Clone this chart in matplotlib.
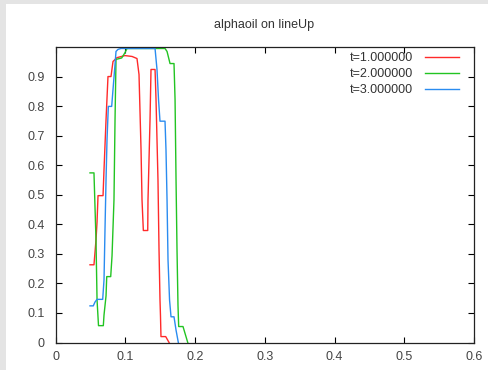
import matplotlib
matplotlib.use("Agg")
import matplotlib.pyplot as plt
from matplotlib.patches import Rectangle

# values (data units)
x_t1 = [0.0492, 0.0549, 0.0578, 0.0593, 0.0607, 0.0679, 0.0693, 0.0722, 0.0750, 0.0793,
        0.0822, 0.0879, 0.0993, 0.1095, 0.1166, 0.1195, 0.1224, 0.1238, 0.1257, 0.1320,
        0.1324, 0.1353, 0.1367, 0.1425, 0.1439, 0.1467, 0.1482, 0.1496, 0.1503, 0.1510,
        0.1578, 0.1626]
y_t1 = [0.263, 0.263, 0.347, 0.408, 0.497, 0.497, 0.585, 0.754, 0.900, 0.900,
        0.951, 0.964, 0.971, 0.968, 0.961, 0.907, 0.653, 0.483, 0.379, 0.379,
        0.483, 0.754, 0.924, 0.924, 0.822, 0.551, 0.314, 0.144, 0.090, 0.020,
        0.020, 0.0]

x_t2 = [0.0492, 0.0549, 0.0578, 0.0593, 0.0614, 0.0683, 0.0693, 0.0722, 0.0732, 0.0789,
        0.0808, 0.0836, 0.0851, 0.0865, 0.0947, 0.0994, 0.1023, 0.1568, 0.1597, 0.1640,
        0.1697, 0.1712, 0.1726, 0.1740, 0.1754, 0.1764, 0.1826, 0.1894]
y_t2 = [0.574, 0.574, 0.347, 0.144, 0.057, 0.057, 0.093, 0.158, 0.223, 0.223,
        0.293, 0.483, 0.754, 0.958, 0.963, 0.981, 0.995, 0.995, 0.985, 0.944,
        0.944, 0.822, 0.551, 0.314, 0.127, 0.054, 0.054, 0.0]

x_t3 = [0.0492, 0.0539, 0.0564, 0.0593, 0.0674, 0.0693, 0.0707, 0.0722, 0.0736, 0.0755,
        0.0803, 0.0822, 0.0851, 0.0865, 0.0894, 0.0937, 0.1425, 0.1453, 0.1475, 0.1496,
        0.1568, 0.1582, 0.1597, 0.1611, 0.1633, 0.1654, 0.1697, 0.1726, 0.1759]
y_t3 = [0.124, 0.124, 0.137, 0.146, 0.146, 0.212, 0.381, 0.551, 0.686, 0.799,
        0.799, 0.856, 0.941, 0.985, 0.992, 0.995, 0.995, 0.924, 0.822, 0.749,
        0.749, 0.652, 0.483, 0.280, 0.144, 0.087, 0.087, 0.042, 0.0]

labels = ["t=1.000000", "t=2.000000", "t=3.000000"]
colors = ["#ff2a2a", "#22c422", "#2a8cf0"]
x_ticks = [0, 0.1, 0.2, 0.3, 0.4, 0.5, 0.6]
x_ticklabels = ["0", "0.1", "0.2", "0.3", "0.4", "0.5", "0.6"]
y_ticks = [0, 0.1, 0.2, 0.3, 0.4, 0.5, 0.6, 0.7, 0.8, 0.9]
y_ticklabels = ["0", "0.1", "0.2", "0.3", "0.4", "0.5", "0.6", "0.7", "0.8", "0.9"]

plt.rcParams["font.family"] = ["Liberation Sans", "DejaVu Sans"]
plt.rcParams["font.size"] = 9

W, H = 488, 370
fig = plt.figure(figsize=[W / 100.0, H / 100.0], dpi=100, facecolor="#e4e4e4")
# white page, grey strip on the top and left edges
fig.patches.append(Rectangle((6.0 / W, 0), 1 - 6.0 / W, 1 - 4.0 / H, transform=fig.transFigure,
                             facecolor="white", edgecolor="none", zorder=-5))

ax = fig.add_axes([55.7 / W, 1 - 342.5 / H, (474 - 55.7) / W, (342.5 - 47.3) / H])
ax.set_facecolor("white")
ax.set_zorder(1)

for xs, ys, lab, c in zip([x_t1, x_t2, x_t3], [y_t1, y_t2, y_t3], labels, colors):
    ax.plot(xs, ys, color=c, lw=1.0, label=lab)

ax.set_xlim(0, 0.6)
ax.set_ylim(0, 0.999)
ax.set_xticks(x_ticks)
ax.set_xticklabels(x_ticklabels)
ax.set_yticks(y_ticks)
ax.set_yticklabels(y_ticklabels)
ax.tick_params(direction="in", length=4.5, width=0.8, color="black",
               top=True, right=True, labelcolor="#444444", labelsize=9)
ax.tick_params(axis="x", pad=6)
ax.tick_params(axis="y", pad=8)
for s in ax.spines.values():
    s.set_color("#222222")
    s.set_linewidth(0.9)

leg = ax.legend(loc="upper right", bbox_to_anchor=(0.964, 0.983), markerfirst=False,
                frameon=False, fontsize=9, handlelength=2.7, handletextpad=0.95,
                labelspacing=0.32, borderpad=0.0, borderaxespad=0.0)
for t in leg.get_texts():
    t.set_color("#333333")

fig.text(264.0 / W, 1 - 25.0 / H, "alphaoil on lineUp", ha="center", va="center",
         fontsize=9, color="#333333")

plt.savefig("out.png", dpi=100, facecolor=fig.get_facecolor())
